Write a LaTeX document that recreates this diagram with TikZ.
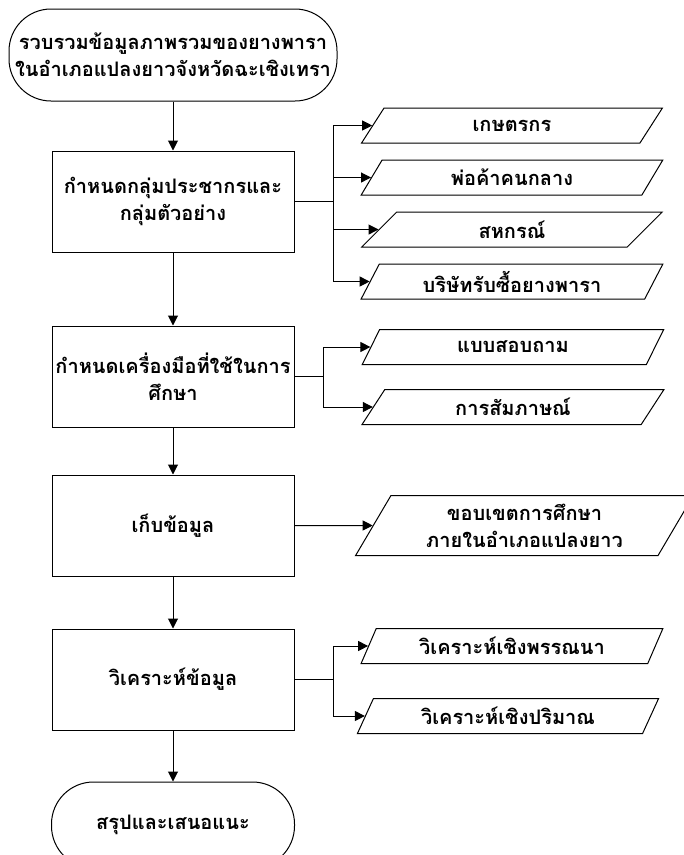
\documentclass[tikz,border=0pt]{standalone}
\usepackage{fontspec}
\setmainfont[Script=Thai]{Loma}
\usepackage{tikz}
\usetikzlibrary{shapes.geometric, arrows.meta, positioning, calc}
\tikzstyle{line} = [line width=1pt]
\tikzstyle{arrow} = [line width=1pt, -{Triangle[length=10pt, width=10pt]}]
\tikzstyle{basic} = [rectangle, draw=black, line width=1pt, fill=white, text=black, align=center, minimum width=242pt, minimum height=101pt, inner sep=2pt, font=\bfseries\fontsize{20}{27}\selectfont]
\tikzstyle{terminal} = [basic, rounded corners=42pt]
\tikzstyle{datastyle} = [trapezium, trapezium left angle=62, trapezium right angle=118, trapezium stretches=true, draw=black, line width=1pt, fill=white, text=black, align=center, minimum width=302pt, minimum height=35pt, inner sep=1pt, font=\bfseries\fontsize{20}{27}\selectfont]

\begin{document}
\begin{tikzpicture}[node distance=0mm]
\useasboundingbox (0,0) rectangle (684pt,-855pt);

\node (start) [terminal, minimum width=328pt, minimum height=92pt] at (173pt,-55pt) {รวบรวมข้อมูลภาพรวมของยางพารา\\ในอำเภอแปลงยาวจังหวัดฉะเชิงเทรา};
\node (sample) [basic, anchor=north, yshift=-49pt] at(start.south) {กำหนดกลุ่มประชากรและ\\กลุ่มตัวอย่าง};
\node (tools) [basic, anchor=north, yshift=-73pt] at(sample.south) {กำหนดเครื่องมือที่ใช้ในการ\\ศึกษา};
\node (collect) [basic, anchor=north, yshift=-47pt] at(tools.south) {เก็บข้อมูล};
\node (analyse) [basic, anchor=north, yshift=-52pt] at(collect.south) {วิเคราะห์ข้อมูล};
\node (finish) [terminal, minimum width=243pt, minimum height=86pt, anchor=north, yshift=-51pt] at(analyse.south) {สรุปและเสนอแนะ};

\draw [arrow] (start.south) -- (sample.north);
\draw [arrow] (sample.south) -- (tools.north);
\draw [arrow] (tools.south) -- (collect.north);
\draw [arrow] (collect.south) -- (analyse.north);
\draw [arrow] (analyse.south) -- (finish.north);

% groups
\node (farmer) [datastyle, xshift=339pt, yshift=76pt] at(sample.center) {เกษตรกร};
\node (trader) [datastyle, anchor=north, yshift=-16pt] at(farmer.south) {พ่อค้าคนกลาง};
\node (coop) [datastyle, anchor=north, yshift=-16pt] at(trader.south) {สหกรณ์};
\node (company) [datastyle, anchor=north, yshift=-16pt] at(coop.south) {บริษัทรับซื้อยางพารา};
\coordinate [xshift=39pt] (fork1) at(sample.east);
\draw [line] (sample.east) -- (fork1);
\draw [arrow] (fork1) |- (farmer.west);
\draw [arrow] (fork1) |- (trader.west);
\draw [arrow] (fork1) |- (coop.west);
\draw [arrow] (fork1) |- (company.west);

\node (survey) [datastyle, xshift=340pt, yshift=29.5pt] at(tools.center) {แบบสอบถาม};
\node (interview) [datastyle, anchor=north, yshift=-24pt] at(survey.south) {การสัมภาษณ์};
\coordinate [xshift=29pt] (fork2) at(tools.east);
\draw [line] (tools.east) -- (fork2);
\draw [arrow] (fork2) |- (survey.west);
\draw [arrow] (fork2) |- (interview.west);

\node (scope) [datastyle, trapezium left angle=60, trapezium right angle=120, minimum width=339pt, minimum height=60pt, xshift=351.5pt] at(collect.center) {ขอบเขตการศึกษา\\ภายในอำเภอแปลงยาว};
\draw [arrow] (collect.east) -- (scope.west);

\node (descr) [datastyle, xshift=339pt, yshift=33.5pt] at(analyse.center) {วิเคราะห์เชิงพรรณนา};
\node (quant) [datastyle, anchor=north, xshift=-4pt, yshift=-34pt] at(descr.south) {วิเคราะห์เชิงปริมาณ};
\coordinate [xshift=39pt] (fork4) at(analyse.east);
\draw [line] (analyse.east) -- (fork4);
\draw [arrow] (fork4) |- (descr.west);
\draw [arrow] (fork4) |- (quant.west);

\end{tikzpicture}
\end{document}
